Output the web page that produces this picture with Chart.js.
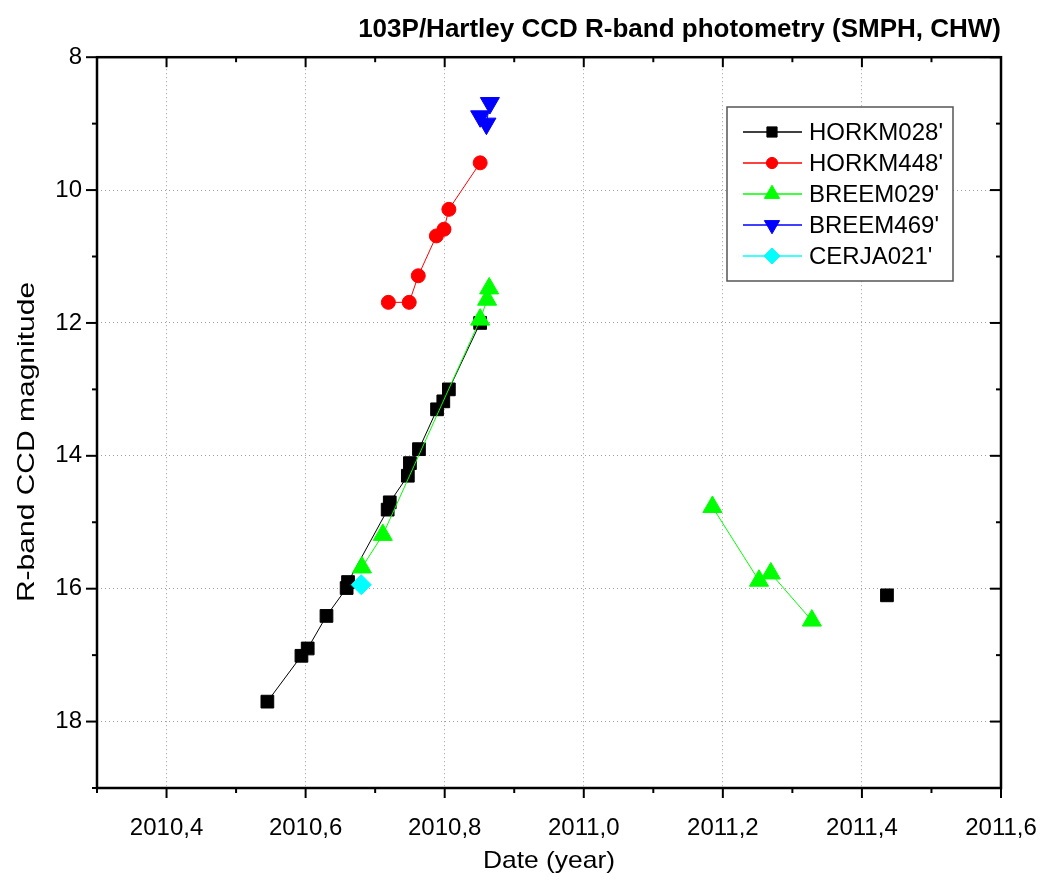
<!DOCTYPE html>
<html>
<head>
<meta charset="utf-8">
<title>103P/Hartley CCD R-band photometry</title>
<script src="https://cdn.jsdelivr.net/npm/chart.js@4.4.1/dist/chart.umd.min.js"></script>
<style>
  html, body { margin: 0; padding: 0; background: #fff; }
  #wrap { width: 1043px; height: 883px; }
</style>
</head>
<body>
<div id="wrap"><canvas id="chart" width="1043" height="883"></canvas></div>
<script>
// values (date in years, R magnitude)
const horkm028X = [2010.545, 2010.594, 2010.603, 2010.630, 2010.659, 2010.661, 2010.718, 2010.721, 2010.747, 2010.750, 2010.763, 2010.789, 2010.798, 2010.806, 2010.851, 2011.436];
const horkm028Y = [17.70, 17.01, 16.90, 16.41, 15.99, 15.90, 14.81, 14.70, 14.30, 14.11, 13.90, 13.30, 13.18, 13.00, 12.00, 16.10];

const horkm448X = [2010.719, 2010.749, 2010.762, 2010.788, 2010.799, 2010.806, 2010.851];
const horkm448Y = [11.69, 11.69, 11.29, 10.69, 10.59, 10.29, 9.59];

const breem029X = [2010.681, 2010.711, 2010.851, 2010.861, 2010.864, 2011.185, 2011.252, 2011.269, 2011.328];
const breem029Y = [15.68, 15.19, 11.95, 11.65, 11.48, 14.77, 15.88, 15.77, 16.48];

const breem469X = [2010.851, 2010.860, 2010.865];
const breem469Y = [8.89, 9.00, 8.69];

const cerja021X = [2010.680];
const cerja021Y = [15.94];

const seriesNames = ["HORKM028'", "HORKM448'", "BREEM029'", "BREEM469'", "CERJA021'"];
const xTickLabels = ['2010,4', '2010,6', '2010,8', '2011,0', '2011,2', '2011,4', '2011,6'];
const yTickLabels = ['8', '10', '12', '14', '16', '18'];

const FONT = "Arial, 'Liberation Sans', sans-serif";

function toPoints(xs, ys) {
    return xs.map((x, i) => ({ x: x, y: ys[i] }));
}

function isMajorX(v) { return Math.round(v * 10) % 2 === 0; }
function isMajorY(v) { return Math.round(v) % 2 === 0; }

// a big jump in date means a new apparition: no line across it
function gapSegments(color) {
    return {
        borderColor: ctx => (ctx.p1.parsed.x - ctx.p0.parsed.x > 0.2 ? 'rgba(0,0,0,0)' : color)
    };
}

function makeDataset(i, xs, ys, color, style, radius, rotation) {
    return {
        label: seriesNames[i],
        data: toPoints(xs, ys),
        showLine: true,
        borderColor: color,
        backgroundColor: color,
        borderWidth: 1,
        pointStyle: style,
        pointRadius: radius,
        pointRotation: rotation || 0,
        pointBackgroundColor: color,
        pointBorderColor: color,
        pointBorderWidth: 1,
        segment: gapSegments(color),
        order: 4 - i
    };
}

const datasets = [
    makeDataset(0, horkm028X, horkm028Y, '#000000', 'rect', 9),
    makeDataset(1, horkm448X, horkm448Y, '#ff0000', 'circle', 7),
    makeDataset(2, breem029X, breem029Y, '#00ff00', 'triangle', 11),
    makeDataset(3, breem469X, breem469Y, '#0000ff', 'triangle', 11, 180),
    makeDataset(4, cerja021X, cerja021Y, '#00ffff', 'rectRot', 10)
];

// frame with ticks on all four sides (outer ticks bottom/left, inner top/right)
const frameTicks = {
    id: 'frameTicks',
    afterDraw(chart) {
        const { ctx, chartArea: a, scales } = chart;
        ctx.save();
        ctx.strokeStyle = '#000';
        ctx.lineWidth = 2;
        function seg(x1, y1, x2, y2) {
            ctx.beginPath();
            ctx.moveTo(x1, y1);
            ctx.lineTo(x2, y2);
            ctx.stroke();
        }
        scales.x.ticks.forEach(t => {
            const px = scales.x.getPixelForValue(t.value);
            const len = isMajorX(t.value) ? 10 : 5;
            seg(px, a.bottom, px, a.bottom + len);
            seg(px, a.top, px, a.top + len);
        });
        scales.y.ticks.forEach(t => {
            const py = scales.y.getPixelForValue(t.value);
            const len = isMajorY(t.value) ? 11 : 5;
            seg(a.left - len, py, a.left, py);
            seg(a.right - len, py, a.right, py);
        });
        ctx.lineWidth = 2.5;
        ctx.strokeRect(a.left, a.top, a.right - a.left, a.bottom - a.top);

        // axis titles
        ctx.fillStyle = '#000';
        ctx.font = '24px ' + FONT;
        ctx.textAlign = 'center';
        ctx.textBaseline = 'alphabetic';
        ctx.save();
        ctx.translate((a.left + a.right) / 2, 868);
        ctx.scale(1.1, 1);
        ctx.fillText('Date (year)', 0, 0);
        ctx.restore();
        ctx.save();
        ctx.translate(34, 442);
        ctx.rotate(-Math.PI / 2);
        ctx.scale(1.25, 1);
        ctx.fillText('R-band CCD magnitude', 0, 0);
        ctx.restore();
        ctx.restore();
    }
};

// boxed legend inside the plot, upper right
const boxLegend = {
    id: 'boxLegend',
    afterDraw(chart) {
        const ctx = chart.ctx;
        const box = { x: 727, y: 107, w: 226, h: 174 };
        ctx.save();
        ctx.fillStyle = '#fff';
        ctx.fillRect(box.x, box.y, box.w, box.h);
        ctx.strokeStyle = '#555';
        ctx.lineWidth = 1.5;
        ctx.strokeRect(box.x, box.y, box.w, box.h);
        chart.data.datasets.forEach((ds, i) => {
            const y = 132 + i * 31;
            ctx.strokeStyle = ds.borderColor;
            ctx.lineWidth = 1.5;
            ctx.beginPath();
            ctx.moveTo(743, y);
            ctx.lineTo(802, y);
            ctx.stroke();
            ctx.fillStyle = ds.pointBackgroundColor;
            ctx.strokeStyle = ds.pointBorderColor;
            ctx.lineWidth = 1;
            Chart.helpers.drawPoint(ctx, {
                pointStyle: ds.pointStyle,
                radius: ds.pointRadius * 0.8,
                rotation: ds.pointRotation,
                borderWidth: 1
            }, 772, y);
            ctx.fillStyle = '#000';
            ctx.font = '24px ' + FONT;
            ctx.textAlign = 'left';
            ctx.textBaseline = 'middle';
            ctx.fillText(ds.label, 809, y + 1);
        });
        ctx.restore();
    }
};

const chart = new Chart(document.getElementById('chart'), {
    type: 'scatter',
    data: { datasets: datasets },
    options: {
        responsive: false,
        animation: false,
        events: [],
        layout: { padding: { left: 0, right: 42, top: 0, bottom: 0 } },
        plugins: {
            legend: { display: false },
            tooltip: { enabled: false },
            title: {
                display: true,
                text: '103P/Hartley CCD R-band photometry (SMPH, CHW)',
                align: 'end',
                color: '#000',
                font: { family: FONT, size: 26, weight: 'bold' },
                padding: { top: 14, bottom: 12 }
            }
        },
        scales: {
            x: {
                type: 'linear',
                min: 2010.3,
                max: 2011.6,
                afterFit: s => { s.height = 95; s.paddingLeft = 0; s.paddingRight = 0; },
                border: { display: false, dash: [1, 3] },
                grid: {
                    drawTicks: false,
                    lineWidth: 1,
                    color: c => (c.tick && isMajorX(c.tick.value) && c.tick.value > 2010.35 && c.tick.value < 2011.55 ? '#a0a0a0' : 'rgba(0,0,0,0)')
                },
                ticks: {
                    stepSize: 0.1,
                    autoSkip: false,
                    maxRotation: 0,
                    padding: 26,
                    color: '#000',
                    font: { family: FONT, size: 24 },
                    callback: v => {
                        const lbl = v.toFixed(1).replace('.', ',');
                        return xTickLabels.includes(lbl) ? lbl : '';
                    }
                }
            },
            y: {
                type: 'linear',
                reverse: true,
                min: 8,
                max: 19,
                afterFit: s => { s.width = 97; s.paddingTop = 0; s.paddingBottom = 0; },
                border: { display: false, dash: [1, 3] },
                grid: {
                    drawTicks: false,
                    lineWidth: 1,
                    color: c => (c.tick && isMajorY(c.tick.value) && c.tick.value > 8 ? '#a0a0a0' : 'rgba(0,0,0,0)')
                },
                ticks: {
                    stepSize: 1,
                    autoSkip: false,
                    padding: 15,
                    color: '#000',
                    font: { family: FONT, size: 24 },
                    callback: v => {
                        const lbl = String(Math.round(v));
                        return yTickLabels.includes(lbl) ? lbl : '';
                    }
                }
            }
        }
    },
    plugins: [frameTicks, boxLegend]
});
</script>
</body>
</html>
